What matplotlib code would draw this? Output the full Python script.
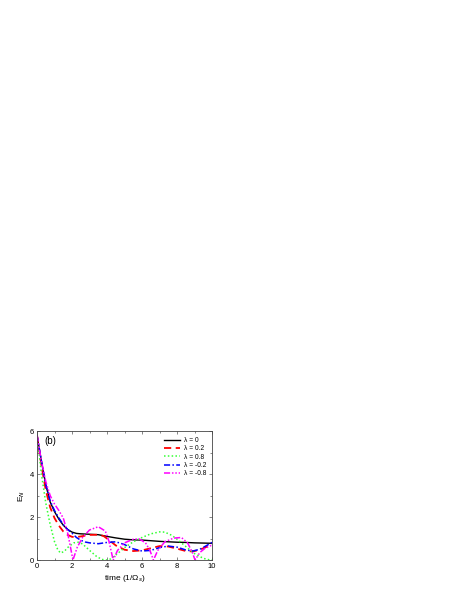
import matplotlib
matplotlib.use("Agg")
import matplotlib.pyplot as plt
from matplotlib.ticker import MultipleLocator

plt.rcParams['font.family'] = ['Liberation Sans', 'DejaVu Sans']

# values, lambda = 0, 0.2, 0.8, -0.2, -0.8
t_black = [0, 0.25, 0.5, 0.75, 1.0, 1.25, 1.5, 1.75, 2.0, 2.25, 2.5, 3.0, 3.5, 4.0, 4.5, 5.0,
           5.5, 6.0, 6.5, 7.0, 7.5, 8.0, 8.5, 9.0, 9.5, 10]
e_black = [5.8, 4.6, 3.5, 2.7, 2.25, 1.9, 1.62, 1.42, 1.3, 1.24, 1.22, 1.2, 1.18, 1.1, 1.03, 0.97,
           0.94, 0.93, 0.9, 0.87, 0.85, 0.83, 0.82, 0.8, 0.79, 0.78]

t_red = [0, 0.25, 0.5, 0.75, 1.0, 1.25, 1.5, 1.75, 2.0, 2.25, 2.5, 3.0, 3.5, 3.8, 4.0, 4.5, 5.0,
         5.5, 6.0, 6.5, 7.0, 7.5, 8.0, 8.5, 8.9, 9.3, 9.7, 10]
e_red = [5.8, 4.4, 3.25, 2.45, 1.95, 1.6, 1.33, 1.17, 1.08, 1.07, 1.1, 1.17, 1.18, 1.12, 1.0, 0.68, 0.48,
         0.42, 0.45, 0.55, 0.65, 0.63, 0.53, 0.42, 0.4, 0.48, 0.62, 0.74]

t_green = [0, 0.25, 0.5, 0.75, 1.0, 1.2, 1.35, 1.55, 1.8, 2.1, 2.35, 2.6, 3.0, 3.4, 3.7, 3.95, 4.2,
           4.6, 5.0, 5.5, 6.0, 6.5, 7.0, 7.3, 7.7, 8.0, 8.5, 9.0, 9.5, 9.9, 10]
e_green = [5.8, 4.0, 2.65, 1.65, 0.85, 0.45, 0.33, 0.4, 0.62, 0.8, 0.83, 0.75, 0.45, 0.17, 0.03, 0.0, 0.05,
           0.3, 0.58, 0.85, 1.05, 1.22, 1.31, 1.3, 1.15, 0.97, 0.63, 0.3, 0.08, 0.0, 0.0]

t_blue = [0, 0.25, 0.5, 0.75, 1.0, 1.25, 1.5, 1.75, 2.0, 2.25, 2.5, 2.75, 3.0, 3.5, 4.0, 4.5, 5.0,
          5.5, 6.0, 6.5, 7.0, 7.5, 8.0, 8.5, 8.9, 9.3, 9.7, 10]
e_blue = [5.8, 4.6, 3.5, 2.75, 2.3, 1.95, 1.65, 1.42, 1.25, 1.05, 0.92, 0.84, 0.8, 0.76, 0.82, 0.85, 0.72,
          0.52, 0.42, 0.45, 0.58, 0.65, 0.6, 0.47, 0.42, 0.5, 0.68, 0.82]

t_mag = [0, 0.25, 0.5, 0.75, 1.0, 1.25, 1.5, 1.75, 1.9, 2.05, 2.3, 2.6, 3.0, 3.5, 3.9, 4.1, 4.35,
         4.6, 5.0, 5.5, 5.85, 6.2, 6.45, 6.65, 6.9, 7.3, 7.8, 8.25, 8.6, 8.85, 9.03, 9.3, 9.6, 10]
e_mag = [5.8, 4.6, 3.65, 3.0, 2.6, 2.3, 1.95, 1.25, 0.65, 0.0, 0.6, 1.05, 1.4, 1.55, 1.35, 0.9, 0.0,
         0.45, 0.8, 0.97, 0.98, 0.8, 0.45, 0.0, 0.45, 0.85, 1.02, 1.05, 0.8, 0.4, 0.0, 0.35, 0.55, 0.7]

fig = plt.figure(figsize=(4.63, 5.99), dpi=100)
ax = fig.add_axes([0.080, 0.065, 0.378, 0.2154])

ax.plot(t_black, e_black, color='black', lw=1.0, ls='-', label='λ = 0')
ax.plot(t_red, e_red, color='#ff0000', lw=1.3, ls=(0, (4, 2.5)), label='λ = 0.2')
ax.plot(t_green, e_green, color='#33ff33', lw=1.1, ls=(0, (1, 1.5)), label='λ = 0.8')
ax.plot(t_blue, e_blue, color='#0000ff', lw=1.1, ls=(0, (4, 1.5, 1, 1.5)), label='λ = -0.2')
ax.plot(t_mag, e_mag, color='#ff00ff', lw=1.1, ls=(0, (4, 1.2, 1, 1.2, 1, 1.2)), label='λ = -0.8')

ax.set_xlim(0, 10)
ax.set_ylim(0, 6)
ax.xaxis.set_major_locator(MultipleLocator(2))
ax.xaxis.set_minor_locator(MultipleLocator(1))
ax.yaxis.set_major_locator(MultipleLocator(2))
ax.yaxis.set_minor_locator(MultipleLocator(1))
ax.tick_params(which='both', direction='in', top=True, right=True, labelsize=5.5, pad=2,
               width=0.5, color='#555555')
ax.tick_params(which='major', length=2.5)
ax.tick_params(which='minor', length=1.5)
for s in ax.spines.values():
    s.set_linewidth(0.6)
    s.set_color('#444444')

ax.set_xlabel('time (1/Ω$_s$)', fontsize=6, labelpad=2)
ax.set_ylabel('E$_N$', fontsize=6, labelpad=2)
ax.text(0.04, 0.96, '(b)', transform=ax.transAxes, fontsize=7, va='top', ha='left')

ax.legend(loc='upper right', frameon=False, fontsize=4.8, handlelength=2.4,
          labelspacing=0.2, handletextpad=0.5, borderaxespad=0.5)

fig.savefig('out.png', dpi=100)
